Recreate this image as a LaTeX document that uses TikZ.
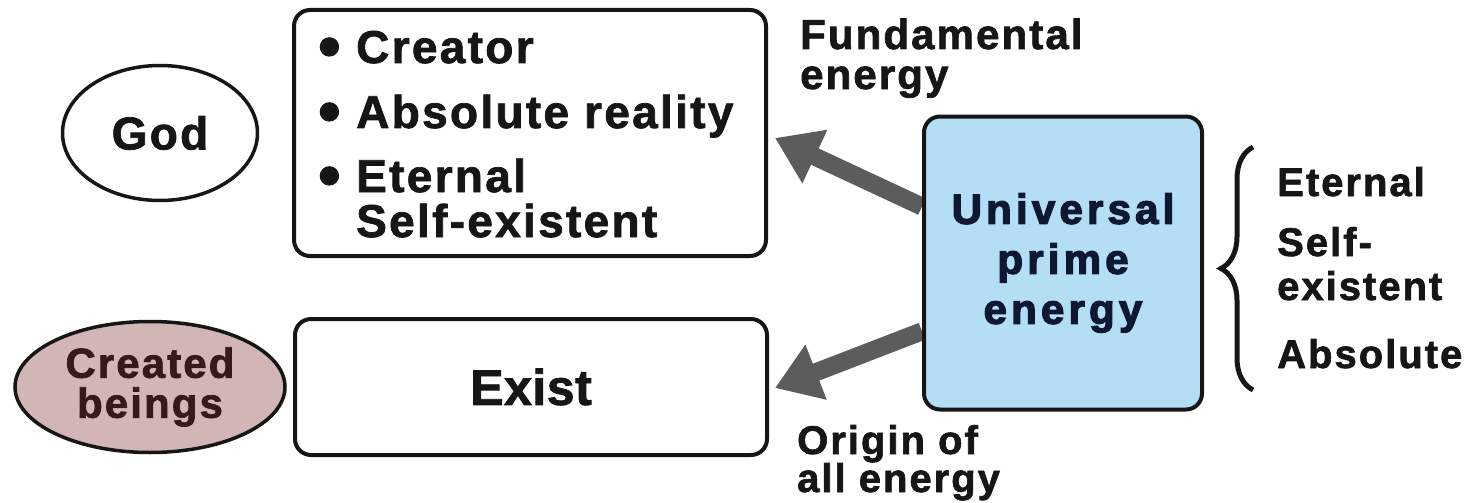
\documentclass[tikz,border=0pt]{standalone}
\usepackage{fontspec}
\setmainfont{Liberation Sans}
\newfontfamily\fa[LetterSpace=5,FakeBold=1.6]{Liberation Sans Bold}
\newfontfamily\fe[LetterSpace=1,FakeBold=1.6]{Liberation Sans Bold}
\newfontfamily\fu[LetterSpace=10,FakeBold=3]{Liberation Sans Bold}
\usetikzlibrary{shapes.geometric,arrows.meta,decorations.pathreplacing,calc}
\definecolor{ink}{RGB}{22,22,22}
\definecolor{bluefill}{RGB}{180,221,246}
\definecolor{pinkfill}{RGB}{210,181,181}
\definecolor{arrowgray}{RGB}{92,92,92}
\definecolor{navy}{RGB}{14,24,48}
\definecolor{cbrown}{RGB}{55,25,25}
\pgfdeclarelayer{bg}
\pgfsetlayers{bg,main}
\begin{document}
\begin{tikzpicture}[x=1pt,y=-1pt,
  box/.style={draw=ink, line width=4pt, rounded corners=16pt, fill=white, inner sep=0pt},
  oval/.style={ellipse, draw=ink, line width=3.5pt, inner sep=0pt},
  txt/.style={inner sep=0pt, text=ink, anchor=base west},
  big/.style={font=\fa\fontsize{46}{46}\selectfont},
  mid/.style={font=\fa\fontsize{42}{42}\selectfont},
  sml/.style={font=\fa\fontsize{40}{40}\selectfont},
  bigarrow/.style={draw=arrowgray, line width=18pt, -{Triangle[length=44pt,width=56pt]}, arrowgray}
]
\useasboundingbox (0,0) rectangle (1476,503);
\newcommand{\bul}{\makebox[38pt][l]{\raisebox{-5pt}{\fontsize{64}{64}\selectfont •}}}
% left ovals
\node[oval, minimum width=195pt, minimum height=135pt, big, text=ink] (god) at (160,133) {God};
\node[oval, fill=pinkfill, minimum width=270pt, minimum height=131pt, align=center, text=cbrown,
      font=\fa\fontsize{42}{40}\selectfont] (created) at (150,387) {Created\\beings};
% boxes
\node[box, minimum width=472pt, minimum height=246pt] (topbox) at (530,133) {};
\node[box, minimum width=472pt, minimum height=136pt, text=ink, font=\fe\fontsize{50}{50}\selectfont] (bottombox) at (531,387) {Exist};
\node[box, fill=bluefill, minimum width=278pt, minimum height=293pt, align=center, text=navy,
      font=\fu\fontsize{42}{50}\selectfont] (blue) at (1063,263) {Universal\\prime\\energy};
% top box lines
\node[txt, big] (l1) at (318,63) {\bul Creator};
\node[txt, big] (l2) at (318,128) {\bul Absolute reality};
\node[txt, big] (l3) at (318,192) {\bul Eternal};
\node[txt, big] (l4) at (356,237) {Self-existent};
% arrow labels
\node[txt, mid] (f1) at (800,49) {Fundamental};
\node[txt, mid] (f2) at (800,89) {energy};
\node[txt, sml] (o1) at (797,454) {Origin of};
\node[txt, sml] (o2) at (797,492) {all energy};
% right list
\node[txt, sml] (r1) at (1277,196) {Eternal};
\node[txt, sml] (r2) at (1277,256) {Self-};
\node[txt, sml] (r3) at (1277,300) {existent};
\node[txt, sml] (r4) at (1277,368) {Absolute};
% brace
\coordinate (bt) at (1253,147);
\coordinate (bb) at (1253,390);
\draw[ink, line width=5pt, decorate, decoration={brace, amplitude=32pt}] (bb) -- (bt);
% arrows
\begin{pgfonlayer}{bg}
\draw[bigarrow] ($(blue.north west)!0.31!(blue.south west)$) -- ($(topbox.east)+(7,5)$);
\draw[bigarrow] ($(blue.north west)!0.73!(blue.south west)$) -- ($(bottombox.east)+(6,1)$);
\end{pgfonlayer}
\end{tikzpicture}
\end{document}
